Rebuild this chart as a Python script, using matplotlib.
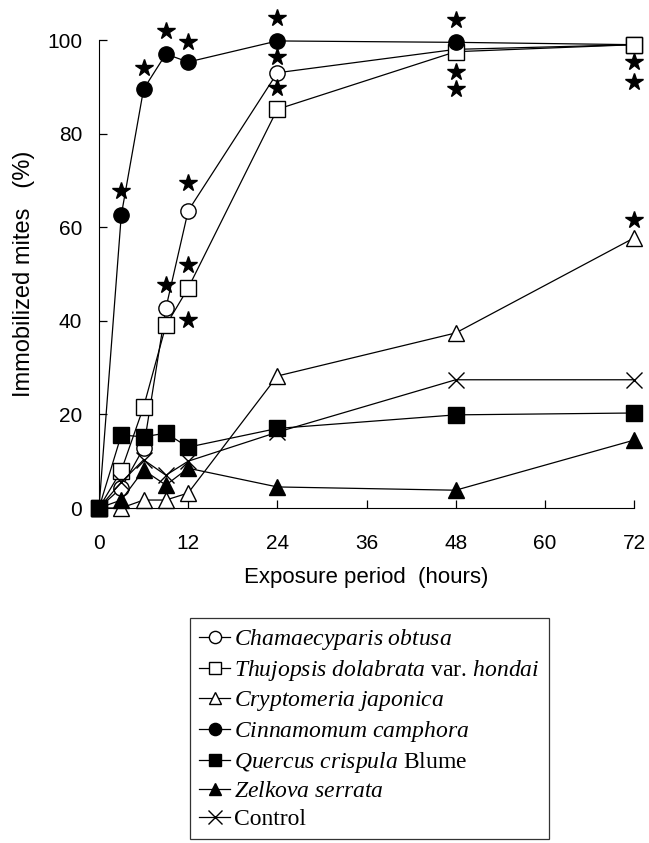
import matplotlib
matplotlib.use("Agg")
import matplotlib.pyplot as plt

# exposure times (hours)
hours = [0, 3, 6, 9, 12, 24, 48, 72]

# immobilized mites (%)
chamaecyparis = [0, 4.3, 12.8, 42.7, 63.5, 93.0, 98.0, 99.0]
thujopsis = [0, 8.0, 21.6, 39.0, 47.0, 85.2, 97.5, 99.0]
cryptomeria = [0, 0.0, 1.7, 1.7, 3.2, 28.2, 37.4, 57.7]
cinnamomum = [0, 62.6, 89.5, 97.0, 95.3, 99.8, 99.5, 99.0]
quercus = [0, 15.6, 15.2, 16.0, 13.0, 17.0, 19.9, 20.3]
zelkova = [0, 1.7, 8.1, 4.9, 8.5, 4.5, 3.8, 14.5]
control = [0, 5.5, 10.3, 7.0, 10.0, 16.2, 27.4, 27.4]

# significance stars
star_x = [3, 6, 9, 9, 12, 12, 12, 12, 24, 24, 24, 48, 48, 48, 72, 72, 72]
star_y = [67.7, 94.0, 102.0, 47.6, 99.6, 69.4, 52.0, 40.2,
          104.7, 96.4, 89.7, 104.3, 93.2, 89.5, 95.3, 91.0, 61.5]

xticks = [0, 12, 24, 36, 48, 60, 72]
yticks = [0, 20, 40, 60, 80, 100]

plt.rcParams["mathtext.fontset"] = "custom"
plt.rcParams["mathtext.rm"] = "Liberation Serif"
plt.rcParams["mathtext.it"] = "Liberation Serif:italic"

fig = plt.figure(figsize=(6.49, 8.43), dpi=100)
ax = fig.add_axes([99 / 649, 1 - 508 / 843, 535 / 649, 468 / 843])

series = [
    (chamaecyparis, "o", "white", r"$\it{Chamaecyparis\ obtusa}$"),
    (thujopsis, "s", "white", r"$\it{Thujopsis\ dolabrata}$ var. $\it{hondai}$"),
    (cryptomeria, "^", "white", r"$\it{Cryptomeria\ japonica}$"),
    (cinnamomum, "o", "black", r"$\it{Cinnamomum\ camphora}$"),
    (quercus, "s", "black", r"$\it{Quercus\ crispula}$ Blume"),
    (zelkova, "^", "black", r"$\it{Zelkova\ serrata}$"),
    (control, "x", "black", "Control"),
]

handles = []
for vals, mk, fc, lab in series:
    ms = 12 if mk == "x" else 11
    ln, = ax.plot(hours, vals, color="black", lw=0.9, marker=mk, ms=ms,
                  mfc=fc, mec="black", mew=1.0, clip_on=False, label=lab)
    handles.append(ln)

# the open square sits on top at 72 h
ax.plot(hours[-1:], thujopsis[-1:], ls="none", marker="s", ms=11, mfc="white",
        mec="black", mew=1.0, clip_on=False, zorder=5)

ax.plot(star_x, star_y, ls="none", marker="*", ms=13, color="black", clip_on=False)

ax.set_xlim(0, 72)
ax.set_ylim(0, 100)
ax.set_xticks(xticks)
ax.set_yticks(yticks)
ax.spines["top"].set_visible(False)
ax.spines["right"].set_visible(False)
ax.tick_params(direction="in", length=6, width=0.9, labelsize=15)
ax.tick_params(axis="y", pad=12)
ax.tick_params(axis="x", pad=19)
for lbl in ax.get_xticklabels() + ax.get_yticklabels():
    lbl.set_family("Liberation Sans")

ax.set_xlabel("Exposure period  (hours)", fontsize=16, family="Liberation Sans", labelpad=10)
ax.set_ylabel("Immobilized mites   (%)", fontsize=17, family="Liberation Sans", labelpad=9)

leg = fig.legend(handles=handles, loc="upper left", bbox_to_anchor=(190 / 649, 1 - 618 / 843),
                 frameon=True, fancybox=False, edgecolor="black", handlelength=1.3,
                 handletextpad=0.15, labelspacing=0.25, borderpad=0.4, borderaxespad=0,
                 prop={"family": "Liberation Serif", "size": 17}, markerscale=0.8)
leg.get_frame().set_linewidth(0.9)

fig.savefig("out.png", dpi=100)
